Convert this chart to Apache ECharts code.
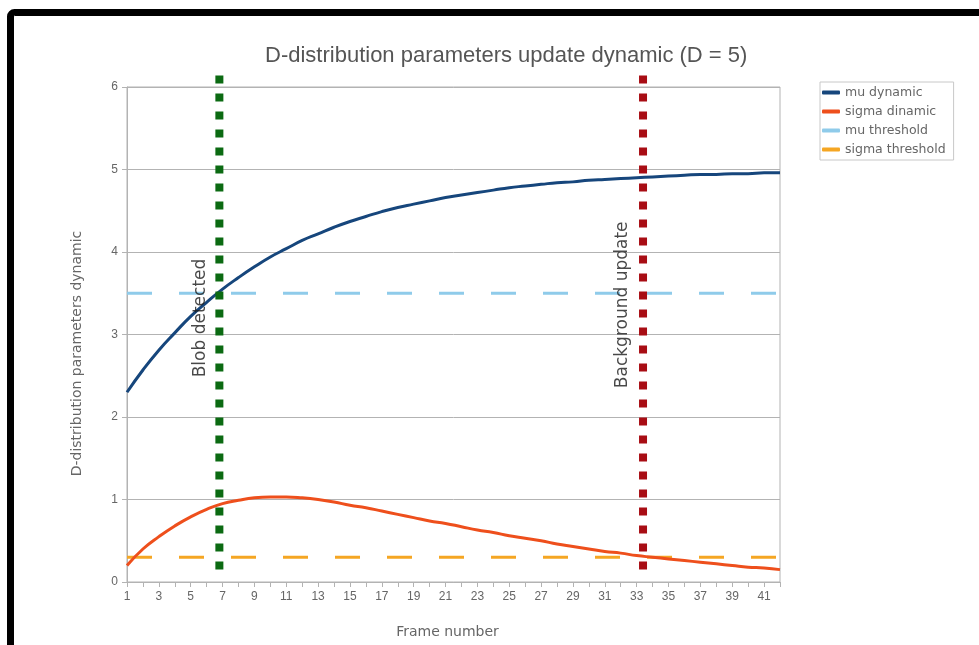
<!DOCTYPE html>
<html lang="en">
<head>
    <meta charset="UTF-8">
    <title>D-distribution parameters</title>
    <script src="https://cdn.jsdelivr.net/npm/echarts@6/dist/echarts.min.js"></script>
</head>
<style>
    *{
        margin: 0;
        padding: 0;
    }
    html,body{
        width: 100%;
        height: 100%;
        overflow: hidden;
        background: #fff;
    }
    .container{
        width: 979px;
        height: 645px;
    }
</style>
<body>
<div class="container"></div>
<script>
    // frames 1..42
    let frames = [];
    for (let i = 1; i <= 42; i++) frames.push(String(i));

    let muDynamic = [2.30, 2.57, 2.81, 3.02, 3.22, 3.39, 3.55, 3.69, 3.82, 3.94,
        4.04, 4.14, 4.22, 4.30, 4.37, 4.43, 4.49, 4.54, 4.58, 4.62,
        4.66, 4.69, 4.72, 4.75, 4.78, 4.80, 4.82, 4.84, 4.85, 4.87,
        4.88, 4.89, 4.90, 4.91, 4.92, 4.93, 4.94, 4.94, 4.95, 4.95,
        4.96, 4.96];
    let sigmaDynamic = [0.20, 0.40, 0.55, 0.68, 0.79, 0.88, 0.95, 0.99, 1.02, 1.03,
        1.03, 1.02, 1.00, 0.97, 0.93, 0.90, 0.86, 0.82, 0.78, 0.74,
        0.71, 0.67, 0.63, 0.60, 0.56, 0.53, 0.50, 0.46, 0.43, 0.40,
        0.37, 0.35, 0.32, 0.30, 0.28, 0.26, 0.24, 0.22, 0.20, 0.18,
        0.17, 0.15];
    let muThreshold = 3.5;
    let sigmaThreshold = 0.3;

    // event markers (frame position, label, label anchor)
    let blobFrame = 6.8;
    let bgFrame = 33.4;
    let markerSpan = [0.11, 6.14];
    let blobLabelAt = [5.6, 3.2];
    let bgLabelAt = [32.1, 3.36];

    let container = document.querySelector('.container');
    let mycharts = echarts.init(container);

    let font = 'Liberation Sans';
    let gridColor = '#b3b3b3';

    let options = {
        backgroundColor: '#fff',
        animation: false,
        textStyle: {fontFamily: font},
        title: {
            text: 'D-distribution parameters update dynamic (D = 5)',
            left: 260,
            top: 40,
            textStyle: {
                color: '#555',
                fontSize: 22,
                fontWeight: 'normal',
                fontFamily: font
            }
        },
        graphic: [{
            type: 'rect',
            shape: {x: 10.5, y: 12.5, width: 1100, height: 800, r: 4},
            style: {fill: 'none', stroke: '#000', lineWidth: 7},
            silent: true,
            z: 100
        }],
        legend: {
            orient: 'vertical',
            left: 820,
            top: 82,
            data: ['mu dynamic', 'sigma dinamic', 'mu threshold', 'sigma threshold'],
            icon: 'roundRect',
            itemWidth: 18,
            itemHeight: 4,
            itemGap: 6,
            padding: [4, 8, 4, 2],
            borderColor: '#c8c8c8',
            borderWidth: 1,
            textStyle: {color: '#666', fontSize: 12.5, fontFamily: 'DejaVu Sans', padding: [0, 0, 0, 0]}
        },
        grid: {
            left: 127,
            right: 199,
            top: 87,
            bottom: 63,
            show: true,
            borderColor: gridColor,
            borderWidth: 1
        },
        xAxis: [{
            type: 'category',
            data: frames,
            boundaryGap: false,
            name: 'Frame number',
            nameLocation: 'middle',
            nameGap: 43,
            nameTextStyle: {color: '#666', fontSize: 14, fontFamily: 'DejaVu Sans', padding: [0, 12, 0, 0]},
            axisLine: {lineStyle: {color: gridColor}},
            axisTick: {interval: 0, length: 5, lineStyle: {color: gridColor}},
            axisLabel: {interval: 1, color: '#666', fontSize: 12, margin: 9},
            splitLine: {show: false}
        }, {
            type: 'value',
            min: 1,
            max: 42,
            show: false
        }],
        yAxis: {
            type: 'value',
            min: 0,
            max: 6,
            interval: 1,
            name: 'D-distribution parameters dynamic',
            nameLocation: 'middle',
            nameGap: 43,
            nameTextStyle: {color: '#666', fontSize: 14, fontFamily: 'DejaVu Sans', padding: [0, 38, 0, 0]},
            axisLine: {show: true, lineStyle: {color: gridColor}},
            axisTick: {show: true, length: 5, lineStyle: {color: gridColor}},
            axisLabel: {color: '#666', fontSize: 12, margin: 9},
            splitLine: {lineStyle: {color: gridColor, width: 1}}
        },
        series: [
            {
                name: 'mu threshold',
                type: 'line',
                data: frames.map(() => muThreshold),
                showSymbol: false,
                color: '#8fcbea',
                lineStyle: {width: 3, type: [25, 27]},
                z: 2
            },
            {
                name: 'sigma threshold',
                type: 'line',
                data: frames.map(() => sigmaThreshold),
                showSymbol: false,
                color: '#f5a623',
                lineStyle: {width: 3, type: [25, 27]},
                z: 2
            },
            {
                name: 'mu dynamic',
                type: 'line',
                data: muDynamic,
                smooth: true,
                showSymbol: false,
                color: '#16467c',
                lineStyle: {width: 3},
                z: 3
            },
            {
                name: 'sigma dinamic',
                type: 'line',
                data: sigmaDynamic,
                smooth: true,
                showSymbol: false,
                color: '#ee4f1c',
                lineStyle: {width: 3},
                z: 3
            },
            {
                name: 'blob',
                type: 'line',
                xAxisIndex: 1,
                data: [[blobFrame, markerSpan[1]], [blobFrame, markerSpan[0]]],
                showSymbol: false,
                clip: false,
                color: '#0b6a12',
                lineStyle: {width: 8, type: [8, 10], cap: 'butt'},
                z: 4
            },
            {
                name: 'background',
                type: 'line',
                xAxisIndex: 1,
                data: [[bgFrame, markerSpan[1]], [bgFrame, markerSpan[0]]],
                showSymbol: false,
                clip: false,
                color: '#a80d14',
                lineStyle: {width: 8, type: [8, 10], cap: 'butt'},
                z: 4
            },
            {
                name: 'notes',
                type: 'scatter',
                xAxisIndex: 1,
                symbolSize: 0,
                data: [
                    {value: blobLabelAt, label: {formatter: 'Blob detected'}},
                    {value: bgLabelAt, label: {formatter: 'Background update'}}
                ],
                label: {
                    show: true,
                    position: 'inside',
                    rotate: 90,
                    color: '#1a1a1a',
                    fontSize: 17,
                    fontFamily: 'DejaVu Sans'
                },
                z: 5
            }
        ]
    };
    mycharts.setOption(options);
</script>
</body>
</html>
